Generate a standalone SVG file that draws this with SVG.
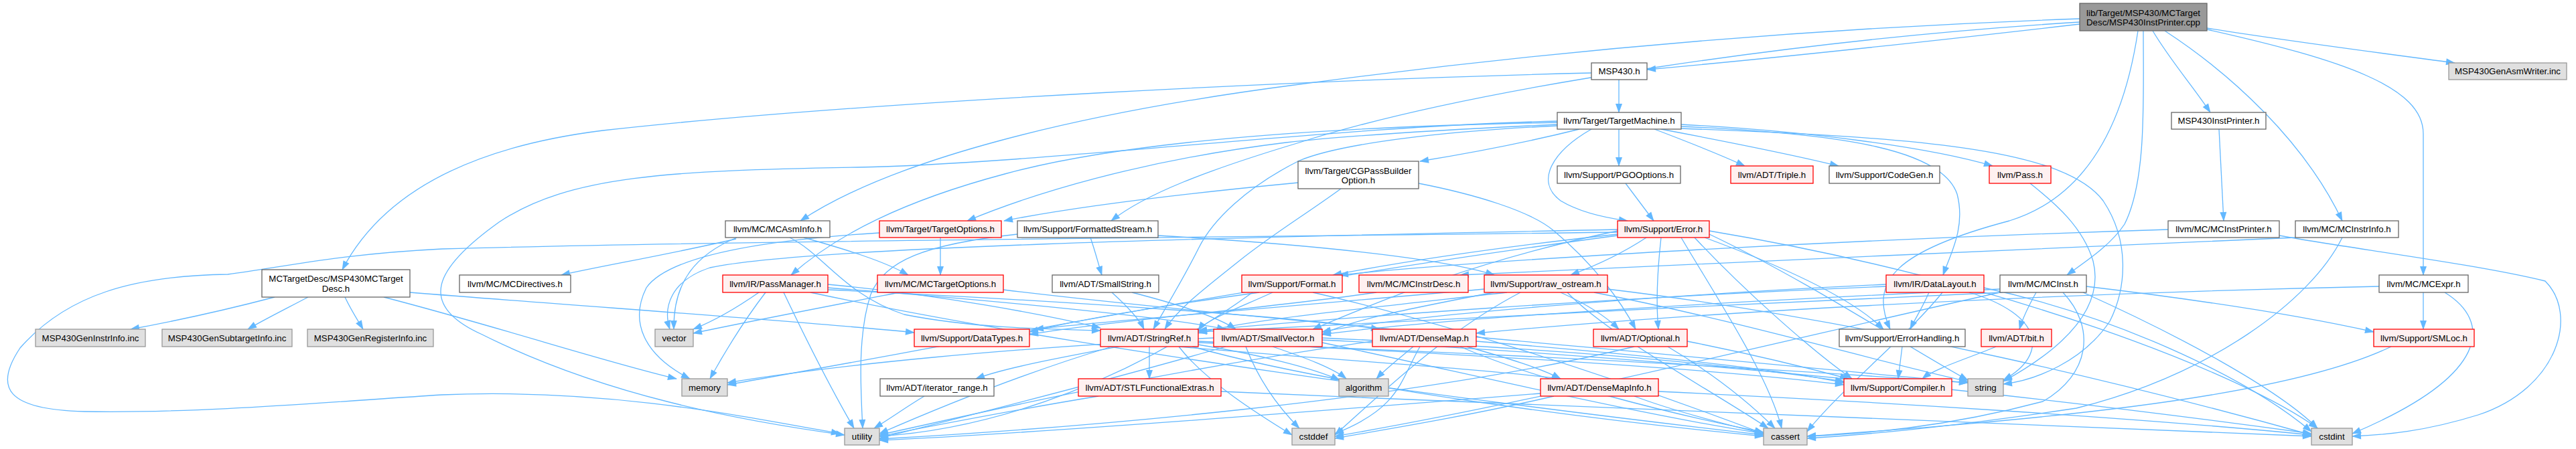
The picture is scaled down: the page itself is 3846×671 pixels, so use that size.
<svg xmlns="http://www.w3.org/2000/svg" width="3846" height="671" viewBox="0 0 3846 671">
<style>
.e{fill:none;stroke:#63b8ff;stroke-width:1.3;marker-end:url(#a)}
.nd rect{stroke-width:1.3}
.w rect{fill:#ffffff;stroke:#666666}
.r rect{fill:#fff0f0;stroke:#ff0000}
.g rect{fill:#e0e0e0;stroke:#999999}
.rt rect{fill:#999999;stroke:#666666}
text{font-family:"Liberation Sans",Arial,sans-serif;font-size:13.3px;text-anchor:middle;fill:#000000}
</style>
<defs>
<marker id="a" markerUnits="userSpaceOnUse" markerWidth="14" markerHeight="10" refX="13" refY="5" orient="auto" overflow="visible"><path d="M0,0 L14,5 L0,10 z" fill="#63b8ff"/></marker>
</defs>
<rect width="3846" height="671" fill="#ffffff"/>
<g id="connectors">
<path class="e" d="M3105,36 C2880,62 2660,86 2459,104"/>
<path class="e" d="M3295,42 C3420,62 3560,80 3665,94"/>
<path class="e" d="M3214,46 C3240,90 3275,130 3300,168"/>
<path class="e" d="M3232,46 C3330,110 3440,210 3497,330"/>
<path class="e" d="M3295,44 C3500,90 3618,130 3618,200 L3618,411"/>
<path class="e" d="M3200,46 C3200,150 3205,270 3172,335 C3150,368 3112,392 3086,411"/>
<path class="e" d="M3192,46 C3175,160 3130,290 3000,330 C2830,375 2790,420 2822,492"/>
<path class="e" d="M3105,28 C2700,42 2300,78 1940,126 C1600,170 1330,240 1195,330"/>
<path class="e" d="M3105,33 C2700,58 2200,130 1940,213 C1800,255 1710,290 1659,330"/>
<path class="e" d="M2417,119 L2417,168"/>
<path class="e" d="M2376,109 C2000,118 1300,150 900,195 C700,220 570,290 511,403"/>
<path class="e" d="M3313,193 L3320,330"/>
<path class="e" d="M2358,193 C2290,210 2200,228 2120,241"/>
<path class="e" d="M2417,193 L2417,248"/>
<path class="e" d="M2470,193 C2520,212 2570,232 2605,248"/>
<path class="e" d="M2480,193 C2580,212 2680,232 2745,248"/>
<path class="e" d="M2510,186 C2700,196 2880,220 2975,248"/>
<path class="e" d="M2510,189 C2760,200 2900,225 2922,290 C2935,340 2912,380 2901,411"/>
<path class="e" d="M2510,192 C2850,205 3080,220 3140,300 C3180,360 3175,430 3150,480 C3110,540 3040,568 2991,574"/>
<path class="e" d="M2376,193 C2320,225 2290,270 2330,300 C2360,318 2400,326 2430,330"/>
<path class="e" d="M2325,186 C2150,194 2000,204 1920,213 C1700,240 1540,290 1444,330"/>
<path class="e" d="M2325,183 C2050,188 1700,205 1500,260 C1350,300 1250,350 1181,411"/>
<path class="e" d="M2325,188 C2150,196 2000,215 1940,240 C1860,280 1810,330 1790,370 C1765,420 1740,460 1722,492"/>
<path class="e" d="M2325,181 C2000,188 1550,245 1280,250 C1000,255 850,262 745,332 C650,400 620,455 720,500 C900,590 1100,628 1261,650"/>
<path class="e" d="M1938,273 C1760,290 1600,310 1499,330"/>
<path class="e" d="M2002,282 C1950,320 1900,350 1850,390 C1800,430 1760,460 1739,492"/>
<path class="e" d="M2118,274 C2200,290 2285,315 2320,345 C2380,395 2420,450 2442,492"/>
<path class="e" d="M2427,274 L2469,330"/>
<path class="e" d="M3031,274 C3070,305 3110,340 3125,390 C3140,450 3100,510 2991,570"/>
<path class="e" d="M1099,357 C1000,380 900,397 838,411"/>
<path class="e" d="M1100,355 C1040,380 1005,420 1006,492"/>
<path class="e" d="M1200,355 C1260,372 1320,390 1356,411"/>
<path class="e" d="M1179,355 C1230,380 1260,440 1350,470 C1450,490 1560,492 1643,494"/>
<path class="e" d="M1343,437 C1250,455 1120,480 1035,498"/>
<path class="e" d="M1498,433 C1800,470 2400,520 2938,572"/>
<path class="e" d="M1404,355 L1404,411"/>
<path class="e" d="M1313,348 C1150,358 1000,380 965,430 C940,480 960,530 1030,566"/>
<path class="e" d="M1628,355 C1635,375 1640,395 1645,411"/>
<path class="e" d="M1729,352 C1950,365 2150,385 2231,411"/>
<path class="e" d="M1519,350 C1380,365 1320,390 1300,440 C1280,500 1285,580 1288,640"/>
<path class="e" d="M1660,437 C1680,455 1700,475 1708,492"/>
<path class="e" d="M1690,437 C1760,455 1820,475 1845,492"/>
<path class="e" d="M1880,437 C1750,455 1620,475 1537,496"/>
<path class="e" d="M1900,437 C1850,460 1800,478 1789,494"/>
<path class="e" d="M1960,437 C2150,480 2400,560 2633,648"/>
<path class="e" d="M1870,437 C1700,560 1500,640 1313,652"/>
<path class="e" d="M2055,437 C1900,460 1650,480 1537,500"/>
<path class="e" d="M2330,437 C2370,455 2400,475 2417,492"/>
<path class="e" d="M2250,437 C2000,465 1850,480 1789,498"/>
<path class="e" d="M2230,437 C2100,462 2010,480 1974,500"/>
<path class="e" d="M2216,432 C1900,460 1650,480 1545,492"/>
<path class="e" d="M2340,437 C2400,500 2550,580 2640,640"/>
<path class="e" d="M2270,437 C2150,500 2050,600 1993,650"/>
<path class="e" d="M2400,432 C2800,480 3200,580 3451,650"/>
<path class="e" d="M2380,437 C2600,480 2800,540 2938,570"/>
<path class="e" d="M2880,437 C2870,460 2860,475 2852,492"/>
<path class="e" d="M2816,425 C2500,440 2100,470 1974,496"/>
<path class="e" d="M2816,428 C2400,445 2000,475 1789,494"/>
<path class="e" d="M2940,437 C3050,470 3060,530 2991,568"/>
<path class="e" d="M2900,437 C2850,500 2750,580 2698,645"/>
<path class="e" d="M2962,430 C3150,470 3350,560 3451,645"/>
<path class="e" d="M3040,437 C3030,455 3020,475 3015,492"/>
<path class="e" d="M3115,428 C3300,450 3450,475 3544,496"/>
<path class="e" d="M2986,432 C2600,450 2150,475 1974,500"/>
<path class="e" d="M2990,437 C2600,455 2100,478 1789,496"/>
<path class="e" d="M3080,437 C3130,490 3120,560 3050,600 C2900,640 2780,648 2698,652"/>
<path class="e" d="M2986,437 C2700,500 2300,600 1993,652"/>
<path class="e" d="M3110,437 C3250,500 3400,580 3460,640"/>
<path class="e" d="M3618,437 L3618,492"/>
<path class="e" d="M3650,437 C3720,480 3720,560 3512,648"/>
<path class="e" d="M3552,428 C3000,440 2500,470 2204,498"/>
<path class="e" d="M3237,343 C2700,360 2200,390 2000,411"/>
<path class="e" d="M3403,352 C3500,370 3700,395 3800,420 C3850,470 3820,580 3700,620 C3620,645 3560,650 3512,652"/>
<path class="e" d="M3427,355 C3100,370 2500,395 2180,411"/>
<path class="e" d="M3497,355 C3450,450 3300,560 3100,610 C2900,640 2780,650 2698,655"/>
<path class="e" d="M410,444 C330,465 260,480 195,492"/>
<path class="e" d="M460,444 C420,465 390,480 370,492"/>
<path class="e" d="M515,444 C525,465 535,480 542,492"/>
<path class="e" d="M573,444 C750,490 900,540 1010,566"/>
<path class="e" d="M612,437 C900,460 1200,480 1365,497"/>
<path class="e" d="M1133,437 C1100,460 1065,480 1035,492"/>
<path class="e" d="M1143,437 C1110,480 1080,530 1060,566"/>
<path class="e" d="M1170,437 C1200,500 1240,580 1275,640"/>
<path class="e" d="M1210,437 C1600,520 2200,600 2633,650"/>
<path class="e" d="M1236,425 C1400,440 1560,470 1643,490"/>
<path class="e" d="M1236,430 C1500,450 1750,475 1830,492"/>
<path class="e" d="M1236,433 C1600,450 1950,475 2060,492"/>
<path class="e" d="M1716,518 L1716,566"/>
<path class="e" d="M1670,518 C1580,535 1500,550 1457,566"/>
<path class="e" d="M1760,518 C1950,535 2200,550 2330,566"/>
<path class="e" d="M1789,510 C2200,530 2550,550 2753,575"/>
<path class="e" d="M1789,515 C1880,530 1960,550 2000,568"/>
<path class="e" d="M1780,518 C2000,580 2400,630 2633,652"/>
<path class="e" d="M1760,518 C1800,570 1880,620 1929,650"/>
<path class="e" d="M1789,512 C2300,530 2700,555 2938,572"/>
<path class="e" d="M1660,518 C1520,560 1400,610 1313,648"/>
<path class="e" d="M1974,505 C2300,520 2550,540 2753,570"/>
<path class="e" d="M1900,518 C1950,535 1990,550 2010,566"/>
<path class="e" d="M1974,512 C2200,560 2450,620 2633,648"/>
<path class="e" d="M1860,518 C1880,570 1910,610 1940,640"/>
<path class="e" d="M1812,505 C1500,520 1250,545 1086,572"/>
<path class="e" d="M1830,518 C1650,570 1450,620 1313,655"/>
<path class="e" d="M1974,508 C2600,540 3100,600 3451,648"/>
<path class="e" d="M2190,518 C2250,535 2300,550 2330,566"/>
<path class="e" d="M2110,518 C2090,535 2070,550 2055,566"/>
<path class="e" d="M2120,518 C2090,570 2090,610 1993,648"/>
<path class="e" d="M2204,510 C2450,530 2650,550 2753,572"/>
<path class="e" d="M2180,518 C2300,570 2500,620 2633,646"/>
<path class="e" d="M2049,510 C1700,560 1450,620 1313,650"/>
<path class="e" d="M2519,510 C2620,530 2700,550 2760,566"/>
<path class="e" d="M2490,518 C2560,560 2610,600 2650,640"/>
<path class="e" d="M2440,518 C2100,600 1600,640 1313,656"/>
<path class="e" d="M2840,518 L2834,566"/>
<path class="e" d="M2980,518 C2940,535 2890,550 2870,566"/>
<path class="e" d="M3570,518 C3400,600 3000,630 2698,652"/>
<path class="e" d="M2440,592 C2500,615 2580,635 2633,648"/>
<path class="e" d="M2320,592 C2200,620 2080,640 1993,655"/>
<path class="e" d="M2476,585 C2800,600 3200,625 3451,650"/>
<path class="e" d="M2300,588 C1900,620 1500,650 1313,658"/>
<path class="e" d="M1640,592 C1500,615 1400,635 1313,652"/>
<path class="e" d="M1823,585 C2400,610 3000,635 3451,652"/>
<path class="e" d="M1380,592 C1350,610 1330,625 1305,640"/>
<path class="e" d="M2415,350 C2250,368 2100,390 1990,411"/>
<path class="e" d="M2458,355 C2420,380 2380,398 2345,411"/>
<path class="e" d="M2480,355 C2475,400 2472,450 2476,492"/>
<path class="e" d="M2415,345 C2200,390 2060,450 1960,492"/>
<path class="e" d="M2545,355 C2640,390 2760,440 2812,492"/>
<path class="e" d="M2530,355 C2600,430 2700,520 2765,566"/>
<path class="e" d="M2552,350 C2700,420 2850,520 2938,568"/>
<path class="e" d="M2510,355 C2560,440 2640,560 2660,640"/>
<path class="e" d="M2552,345 C3000,420 3350,560 3460,640"/>
<path class="e" d="M2415,352 C1900,420 1400,520 1086,575"/>
<path class="e" d="M2415,347 C1800,355 1100,360 660,372 C500,380 420,400 340,410 C200,412 100,440 30,520 C-10,580 10,612 126,615 C300,618 500,600 660,590 C900,580 1100,620 1254,648"/>
<path class="e" d="M2415,343 C1800,355 1200,370 1060,400 C1000,420 990,460 1000,492"/>
</g>
<g id="n0" class="nd rt"><rect x="3105" y="5" width="190" height="41"/><text x="3200" y="23.5">lib/Target/MSP430/MCTarget</text><text x="3200" y="38">Desc/MSP430InstPrinter.cpp</text></g>
<g id="n1" class="nd w"><rect x="2376" y="94" width="83" height="25"/><text x="2417.5" y="111">MSP430.h</text></g>
<g id="n2" class="nd g"><rect x="3656" y="94" width="176" height="25"/><text x="3744" y="111">MSP430GenAsmWriter.inc</text></g>
<g id="n3" class="nd w"><rect x="2325" y="168" width="185" height="25"/><text x="2417.5" y="185">llvm/Target/TargetMachine.h</text></g>
<g id="n4" class="nd w"><rect x="3242" y="168" width="141" height="25"/><text x="3312.5" y="185">MSP430InstPrinter.h</text></g>
<g id="n5" class="nd w"><rect x="1938" y="241" width="180" height="41"/><text x="2028" y="259.5">llvm/Target/CGPassBuilder</text><text x="2028" y="274">Option.h</text></g>
<g id="n6" class="nd w"><rect x="2325" y="248" width="184" height="26"/><text x="2417" y="265.5">llvm/Support/PGOOptions.h</text></g>
<g id="n7" class="nd r"><rect x="2584" y="248" width="123" height="26"/><text x="2645.5" y="265.5">llvm/ADT/Triple.h</text></g>
<g id="n8" class="nd w"><rect x="2731" y="248" width="165" height="26"/><text x="2813.5" y="265.5">llvm/Support/CodeGen.h</text></g>
<g id="n9" class="nd r"><rect x="2970" y="248" width="92" height="26"/><text x="3016" y="265.5">llvm/Pass.h</text></g>
<g id="n10" class="nd w"><rect x="1083" y="330" width="156" height="25"/><text x="1161" y="347">llvm/MC/MCAsmInfo.h</text></g>
<g id="n11" class="nd r"><rect x="1313" y="330" width="182" height="25"/><text x="1404" y="347">llvm/Target/TargetOptions.h</text></g>
<g id="n12" class="nd w"><rect x="1519" y="330" width="210" height="25"/><text x="1624" y="347">llvm/Support/FormattedStream.h</text></g>
<g id="n13" class="nd r"><rect x="2415" y="330" width="137" height="25"/><text x="2483.5" y="347">llvm/Support/Error.h</text></g>
<g id="n14" class="nd w"><rect x="3237" y="330" width="166" height="25"/><text x="3320" y="347">llvm/MC/MCInstPrinter.h</text></g>
<g id="n15" class="nd w"><rect x="3427" y="330" width="154" height="25"/><text x="3504" y="347">llvm/MC/MCInstrInfo.h</text></g>
<g id="n16" class="nd w"><rect x="391" y="403" width="221" height="41"/><text x="501.5" y="421">MCTargetDesc/MSP430MCTarget</text><text x="501.5" y="435.5">Desc.h</text></g>
<g id="n17" class="nd w"><rect x="686" y="411" width="166" height="26"/><text x="769" y="428.5">llvm/MC/MCDirectives.h</text></g>
<g id="n18" class="nd r"><rect x="1079" y="411" width="157" height="26"/><text x="1157.5" y="428.5">llvm/IR/PassManager.h</text></g>
<g id="n19" class="nd r"><rect x="1310" y="411" width="188" height="26"/><text x="1404" y="428.5">llvm/MC/MCTargetOptions.h</text></g>
<g id="n20" class="nd w"><rect x="1571" y="411" width="159" height="26"/><text x="1650.5" y="428.5">llvm/ADT/SmallString.h</text></g>
<g id="n21" class="nd r"><rect x="1854" y="411" width="150" height="26"/><text x="1929" y="428.5">llvm/Support/Format.h</text></g>
<g id="n22" class="nd r"><rect x="2029" y="411" width="163" height="26"/><text x="2110.5" y="428.5">llvm/MC/MCInstrDesc.h</text></g>
<g id="n23" class="nd r"><rect x="2216" y="411" width="184" height="26"/><text x="2308" y="428.5">llvm/Support/raw_ostream.h</text></g>
<g id="n24" class="nd r"><rect x="2816" y="411" width="146" height="26"/><text x="2889" y="428.5">llvm/IR/DataLayout.h</text></g>
<g id="n25" class="nd w"><rect x="2986" y="411" width="129" height="26"/><text x="3050.5" y="428.5">llvm/MC/MCInst.h</text></g>
<g id="n26" class="nd w"><rect x="3552" y="411" width="133" height="26"/><text x="3618.5" y="428.5">llvm/MC/MCExpr.h</text></g>
<g id="n27" class="nd g"><rect x="53" y="492" width="164" height="26"/><text x="135" y="509.5">MSP430GenInstrInfo.inc</text></g>
<g id="n28" class="nd g"><rect x="242" y="492" width="194" height="26"/><text x="339" y="509.5">MSP430GenSubtargetInfo.inc</text></g>
<g id="n29" class="nd g"><rect x="459" y="492" width="188" height="26"/><text x="553" y="509.5">MSP430GenRegisterInfo.inc</text></g>
<g id="n30" class="nd g"><rect x="978" y="492" width="57" height="26"/><text x="1006.5" y="509.5">vector</text></g>
<g id="n31" class="nd r"><rect x="1365" y="492" width="172" height="26"/><text x="1451" y="509.5">llvm/Support/DataTypes.h</text></g>
<g id="n32" class="nd r"><rect x="1643" y="492" width="146" height="26"/><text x="1716" y="509.5">llvm/ADT/StringRef.h</text></g>
<g id="n33" class="nd r"><rect x="1812" y="492" width="162" height="26"/><text x="1893" y="509.5">llvm/ADT/SmallVector.h</text></g>
<g id="n34" class="nd r"><rect x="2049" y="492" width="155" height="26"/><text x="2126.5" y="509.5">llvm/ADT/DenseMap.h</text></g>
<g id="n35" class="nd r"><rect x="2379" y="492" width="140" height="26"/><text x="2449" y="509.5">llvm/ADT/Optional.h</text></g>
<g id="n36" class="nd w"><rect x="2746" y="492" width="188" height="26"/><text x="2840" y="509.5">llvm/Support/ErrorHandling.h</text></g>
<g id="n37" class="nd r"><rect x="2958" y="492" width="105" height="26"/><text x="3010.5" y="509.5">llvm/ADT/bit.h</text></g>
<g id="n38" class="nd r"><rect x="3544" y="492" width="150" height="26"/><text x="3619" y="509.5">llvm/Support/SMLoc.h</text></g>
<g id="n39" class="nd g"><rect x="1018" y="566" width="68" height="26"/><text x="1052" y="583.5">memory</text></g>
<g id="n40" class="nd w"><rect x="1314" y="566" width="170" height="26"/><text x="1399" y="583.5">llvm/ADT/iterator_range.h</text></g>
<g id="n41" class="nd r"><rect x="1610" y="566" width="213" height="26"/><text x="1716.5" y="583.5">llvm/ADT/STLFunctionalExtras.h</text></g>
<g id="n42" class="nd g"><rect x="1999" y="566" width="74" height="26"/><text x="2036" y="583.5">algorithm</text></g>
<g id="n43" class="nd r"><rect x="2300" y="566" width="176" height="26"/><text x="2388" y="583.5">llvm/ADT/DenseMapInfo.h</text></g>
<g id="n44" class="nd r"><rect x="2753" y="566" width="161" height="26"/><text x="2833.5" y="583.5">llvm/Support/Compiler.h</text></g>
<g id="n45" class="nd g"><rect x="2938" y="566" width="53" height="26"/><text x="2964.5" y="583.5">string</text></g>
<g id="n46" class="nd g"><rect x="1261" y="640" width="52" height="25"/><text x="1287" y="657">utility</text></g>
<g id="n47" class="nd g"><rect x="1929" y="640" width="64" height="25"/><text x="1961" y="657">cstddef</text></g>
<g id="n48" class="nd g"><rect x="2633" y="640" width="65" height="25"/><text x="2665.5" y="657">cassert</text></g>
<g id="n49" class="nd g"><rect x="3451" y="640" width="61" height="25"/><text x="3481.5" y="657">cstdint</text></g>
</svg>
